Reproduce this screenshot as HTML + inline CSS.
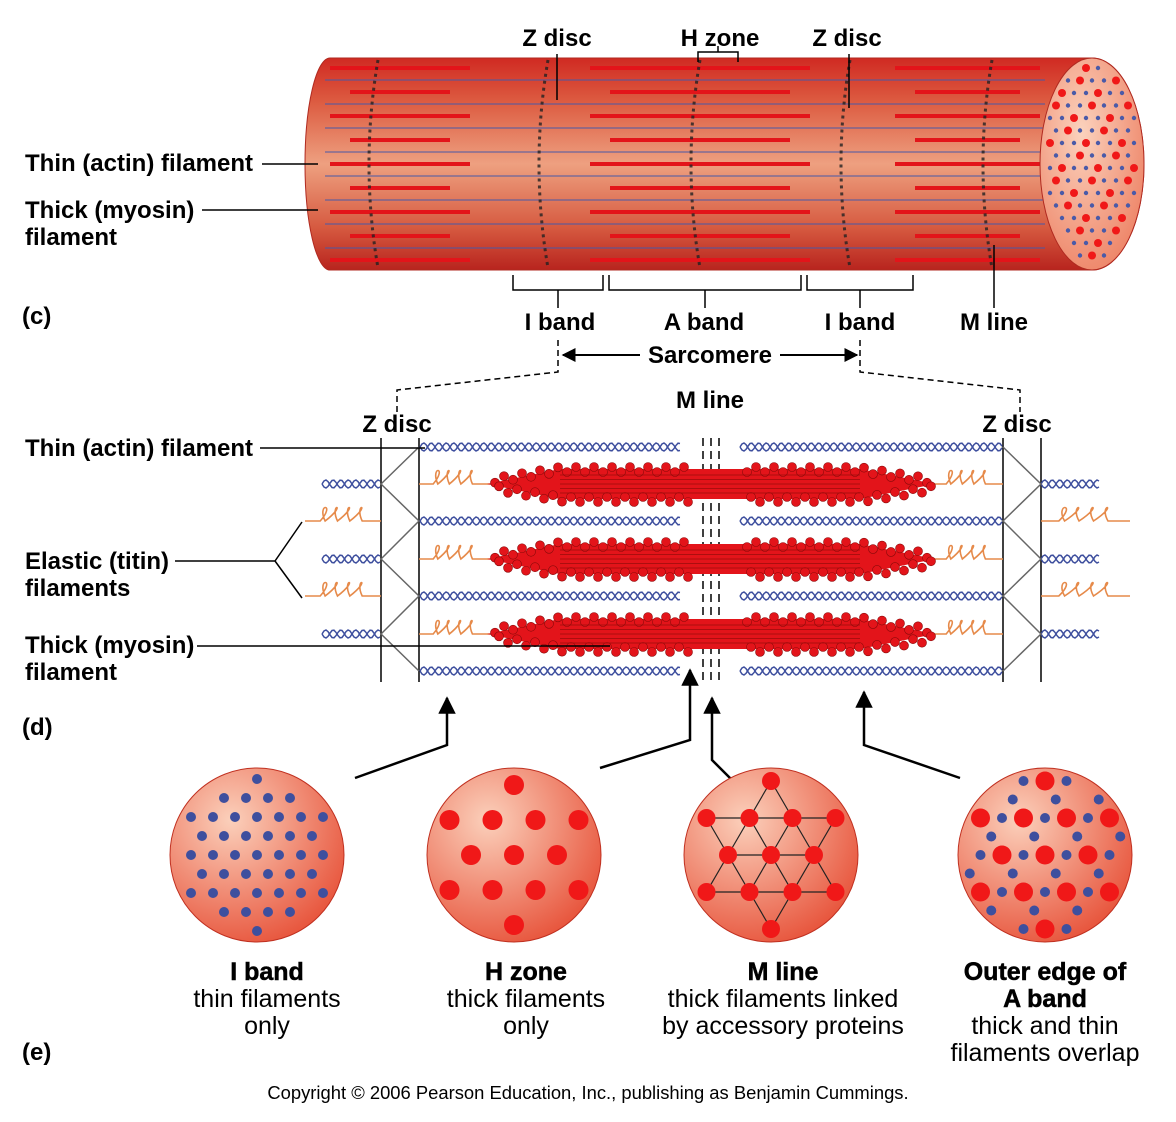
<!DOCTYPE html>
<html><head><meta charset="utf-8"><style>
html,body{margin:0;padding:0;background:#fff}
svg{display:block}
text{font-family:"Liberation Sans",Arial,sans-serif;fill:#000}
.b{font-weight:bold;font-size:24px}
.e{font-weight:bold;font-size:25px;stroke:#000;stroke-width:0.5}
.r{font-size:25px}
</style></head><body>
<svg id="s" width="1176" height="1122" viewBox="0 0 1176 1122" xmlns="http://www.w3.org/2000/svg">
<defs>
<linearGradient id="cyl" x1="0" y1="0" x2="0" y2="1">
<stop offset="0" stop-color="#d02a22"/><stop offset="0.2" stop-color="#dc5a40"/><stop offset="0.5" stop-color="#eea080"/><stop offset="0.8" stop-color="#d65a40"/><stop offset="1" stop-color="#b8241e"/>
</linearGradient>
<radialGradient id="end" cx="0.4" cy="0.35" r="0.8"><stop offset="0" stop-color="#fbd2bd"/><stop offset="1" stop-color="#ec7a5c"/></radialGradient>
<radialGradient id="circ" cx="0.35" cy="0.3" r="0.85"><stop offset="0" stop-color="#fbd0bb"/><stop offset="1" stop-color="#e5452c"/></radialGradient>
<marker id="ah" viewBox="0 0 10 10" refX="9" refY="5" markerWidth="7" markerHeight="7" orient="auto"><path d="M0,0L10,5L0,10z" fill="#000"/></marker>
</defs>

<g id="cylinder">
<path d="M330,58 L1092,58 A52,106 0 0 1 1092,270 L330,270 A25,106 0 0 1 330,58Z" fill="url(#cyl)" stroke="#b02a20" stroke-width="1"/>
<g id="cylLines"></g>
<ellipse cx="1092" cy="164" rx="52" ry="106" fill="url(#end)" stroke="#b02a20"/>
<g id="endDots"></g>
</g>

<g>
<text class="b" x="557" y="46" text-anchor="middle">Z disc</text>
<text class="b" x="720" y="46" text-anchor="middle">H zone</text>
<text class="b" x="847" y="46" text-anchor="middle">Z disc</text>
<path d="M557,54V100 M849,54V108 M698,62V52H738V62 M718,52V46" stroke="#000" stroke-width="1.5" fill="none"/>
<text class="b" x="25" y="171">Thin (actin) filament</text>
<path d="M262,164H318" stroke="#000" stroke-width="1.5"/>
<text class="b" x="25" y="218">Thick (myosin)</text>
<text class="b" x="25" y="245">filament</text>
<path d="M202,210H318" stroke="#000" stroke-width="1.5"/>
<text class="b" x="22" y="324">(c)</text>
<path d="M513,275V290H603V275 M558,290V308 M609,275V290H801V275 M705,290V308 M807,275V290H913V275 M860,290V308 M994,245V308" stroke="#000" stroke-width="1.5" fill="none"/>
<text class="b" x="560" y="330" text-anchor="middle">I band</text>
<text class="b" x="704" y="330" text-anchor="middle">A band</text>
<text class="b" x="860" y="330" text-anchor="middle">I band</text>
<text class="b" x="994" y="330" text-anchor="middle">M line</text>
<text class="b" x="710" y="363" text-anchor="middle">Sarcomere</text>
<path d="M640,355H563" stroke="#000" stroke-width="2" marker-end="url(#ah)"/>
<path d="M780,355H857" stroke="#000" stroke-width="2" marker-end="url(#ah)"/>
<path d="M558,340V372L397,390V412 M860,340V372L1020,390V412" stroke="#000" stroke-width="1.5" stroke-dasharray="6,4" fill="none"/>
</g>

<g id="panelD">
<text class="b" x="397" y="432" text-anchor="middle">Z disc</text>
<text class="b" x="710" y="408" text-anchor="middle">M line</text>
<text class="b" x="1017" y="432" text-anchor="middle">Z disc</text>
<path d="M381,438V682 M419,438V682 M1003,438V682 M1041,438V682" stroke="#000" stroke-width="1.5"/>
<path d="M703,438V682 M711,438V682 M719,438V682" stroke="#000" stroke-width="1.5" stroke-dasharray="8,5"/>
<g id="dRows"></g>
<text class="b" x="25" y="456">Thin (actin) filament</text>
<path d="M260,448H425" stroke="#000" stroke-width="1.5"/>
<text class="b" x="25" y="569">Elastic (titin)</text>
<text class="b" x="25" y="596">filaments</text>
<path d="M175,561H275L302,522 M275,561L302,598" stroke="#000" stroke-width="1.5" fill="none"/>
<text class="b" x="25" y="653">Thick (myosin)</text>
<text class="b" x="25" y="680">filament</text>
<path d="M197,646H610" stroke="#000" stroke-width="1.5"/>
<text class="b" x="22" y="735">(d)</text>
</g>

<g stroke="#000" stroke-width="2.5" fill="none">
<path d="M355,778L447,745V698" marker-end="url(#ah)"/>
<path d="M600,768L690,740V670" marker-end="url(#ah)"/>
<path d="M737,785L712,760V698" marker-end="url(#ah)"/>
<path d="M960,778L864,745V692" marker-end="url(#ah)"/>
</g>

<g id="circles"></g>

<g>
<text class="e" x="267" y="980" text-anchor="middle">I band</text>
<text class="r" x="267" y="1007" text-anchor="middle">thin filaments</text>
<text class="r" x="267" y="1034" text-anchor="middle">only</text>
<text class="e" x="526" y="980" text-anchor="middle">H zone</text>
<text class="r" x="526" y="1007" text-anchor="middle">thick filaments</text>
<text class="r" x="526" y="1034" text-anchor="middle">only</text>
<text class="e" x="783" y="980" text-anchor="middle">M line</text>
<text class="r" x="783" y="1007" text-anchor="middle">thick filaments linked</text>
<text class="r" x="783" y="1034" text-anchor="middle">by accessory proteins</text>
<text class="e" x="1045" y="980" text-anchor="middle">Outer edge of</text>
<text class="e" x="1045" y="1007" text-anchor="middle">A band</text>
<text class="r" x="1045" y="1034" text-anchor="middle">thick and thin</text>
<text class="r" x="1045" y="1061" text-anchor="middle">filaments overlap</text>
<text class="b" x="22" y="1060">(e)</text>
<text x="588" y="1099" text-anchor="middle" font-size="18.4">Copyright © 2006 Pearson Education, Inc., publishing as Benjamin Cummings.</text>
</g>
</svg>
<script>
const NS="http://www.w3.org/2000/svg";
function mk(tag,attrs,parent){const e=document.createElementNS(NS,tag);for(const k in attrs)e.setAttribute(k,attrs[k]);parent.appendChild(e);return e;}
const cl=document.getElementById('cylLines');
const cylRows=[68,80,92,104,116,128,140,152,164,176,188,200,212,224,236,248,260];
const redRanges=[[330,470],[590,810],[895,1040]];
cylRows.forEach((y,i)=>{
  if(i%2===0){
    redRanges.forEach((r,j)=>{const off=(i%4===0)?0:20;
      const l=mk('line',{x1:r[0]+off,y1:y,x2:r[1]-off,y2:y,stroke:'#e3141a','stroke-width':4},cl);
      
      });
  } else {
    const l=mk('line',{x1:325,y1:y,x2:1045,y2:y,stroke:'#4a5aa8','stroke-width':1.2,opacity:0.8},cl);
    
    
  }
});
const zx=[378,548,700,850,992];
zx.forEach(x=>{
  mk('path',{d:`M${x},60 Q${x-18},164 ${x},268`,stroke:'#222','stroke-width':3,fill:'none','stroke-dasharray':'3,4',opacity:0.8},cl);
});
const ed=document.getElementById('endDots');
for(let r=0;r<16;r++)for(let c=0;c<8;c++){
  const x=1050+c*12+(r%2)*6,y=68+r*12.5;
  if(((x-1092)/50)**2+((y-164)/102)**2<0.92)
    mk('circle',{cx:x,cy:y,r:(r+c)%3===0?4:2.2,fill:(r+c)%3===0?'#f01818':'#4a5aa8'},ed);
}
const dr=document.getElementById('dRows');
function helix(a,b,y){
  let p1='',p2='';
  for(let x=a;x<=b;x+=2){const t=(x-a)/15*Math.PI*2;p1+=(x===a?'M':'L')+x+','+(y+4*Math.sin(t)).toFixed(1);p2+=(x===a?'M':'L')+x+','+(y-4*Math.sin(t)).toFixed(1);}
  const g=mk('g',{},dr);
  
  
  mk('path',{d:p1,stroke:'#3e4f9e','stroke-width':1.5,fill:'none'},g);
  mk('path',{d:p2,stroke:'#3e4f9e','stroke-width':1.5,fill:'none'},g);
}
function spring(a,b,y){
  let d=`M${a},${y}`;const len=b-a,s=a+len*0.2,e=a+len*0.85;
  d+=`L${s},${y}`;
  const n=4,w=(e-s)/n;
  for(let i=0;i<n;i++){const x=s+i*w;d+=` C${x+w*1.3},${y-18} ${x-w*0.3},${y-18} ${x+w*0.4},${y} `;}
  d+=`L${b},${y}`;
  const p=mk('path',{d:d,stroke:'#e68a4a','stroke-width':1.6,fill:'none'},dr);
  
  
}
function thick(y){
  const g=mk('g',{},dr);
  
  
  mk('path',{d:`M487,${y} L560,${y-15} L860,${y-15} L935,${y} L860,${y+15} L560,${y+15}Z`,fill:'#e3141a'},g);
  for(let x=495;x<930;x+=9){
    if(x>690&&x<740)continue;
    const half=(x<560)?(x-487)/73*12+3:(x>860?(935-x)/75*12+3:15);
    mk('circle',{cx:x,cy:y-half+((x/9)%2?3:-2),r:4.5,fill:'#e3141a',stroke:'#8a0a0a','stroke-width':0.6},g);
    mk('circle',{cx:x+4,cy:y+half+((x/9)%2?-2:3),r:4.5,fill:'#e3141a',stroke:'#8a0a0a','stroke-width':0.6},g);
  }
  for(let k=-9;k<=9;k+=4.5)mk('line',{x1:560,y1:y+k,x2:860,y2:y+k,stroke:'#9a0c0c','stroke-width':0.7},g);
}
const thinRows=[447,521,596,671];
const thickRows=[484,559,634];
thinRows.forEach(y=>{helix(420,680,y);helix(740,1003,y);});
[521,596].forEach(y=>{spring(305,381,y);spring(1041,1130,y);});
thickRows.forEach(y=>{helix(322,381,y);helix(1041,1100,y);spring(419,490,y);spring(932,1003,y);thick(y);});
const zz=[447,484,521,559,596,634,671];
[[381,419],[1041,1003]].forEach(([a,b])=>{
  let d='';zz.forEach((y,i)=>{const x=(i%2===0)?b:a;d+=(i===0?'M':'L')+x+','+y;});
  mk('path',{d:d,stroke:'#666','stroke-width':1.5,fill:'none'},dr);
});
const cg=document.getElementById('circles');
const circleCx=[257,514,771,1045];
const circleCy=855,circleR=87;
circleCx.forEach((cx,ci)=>{
  const g=mk('g',{},cg);
  
  
  mk('circle',{cx:cx,cy:circleCy,r:circleR,fill:'url(#circ)',stroke:'#c03020'},g);
  const inside=(x,y,m)=>(x-cx)**2+(y-circleCy)**2<(circleR-m)**2;
  if(ci===0){
    for(let r=-4;r<=4;r++)for(let c=-4;c<=4;c++){const x=cx+c*22+(r%2?11:0),y=circleCy+r*19;if(inside(x,y,8))mk('circle',{cx:x,cy:y,r:5,fill:'#3e4f9e'},g);}
  } else if(ci===1){
    for(let r=-2;r<=2;r++)for(let c=-4;c<=4;c++){const x=cx+c*43+(r%2?21.5:0),y=circleCy+r*35;if(inside(x,y,8))mk('circle',{cx:x,cy:y,r:10,fill:'#f01818'},g);}
  } else if(ci===2){
    const pts=[];
    for(let r=-2;r<=2;r++)for(let c=-4;c<=4;c++){const x=cx+c*43+(r%2?21.5:0),y=circleCy+r*37;if(inside(x,y,4))pts.push([x,y]);}
    pts.forEach(p=>pts.forEach(q=>{const d=Math.hypot(p[0]-q[0],p[1]-q[1]);if(d>1&&d<45&&p[0]<=q[0])mk('line',{x1:p[0],y1:p[1],x2:q[0],y2:q[1],stroke:'#222','stroke-width':1.2},g);}));
    pts.forEach(p=>mk('circle',{cx:p[0],cy:p[1],r:9,fill:'#f01818'},g));
  } else {
    for(let r=-2;r<=2;r++)for(let c=-4;c<=4;c++){const x=cx+c*43+(r%2?21.5:0),y=circleCy+r*37;
      if(inside(x,y,8))mk('circle',{cx:x,cy:y,r:9.5,fill:'#f01818'},g);
      [[21.5,0],[10.75,18.5]].forEach(o=>{const bx=x+o[0],by=y+o[1];if(inside(bx,by,6))mk('circle',{cx:bx,cy:by,r:5,fill:'#3e4f9e'},g);});
    }
  }
});
</script>
</body></html>
